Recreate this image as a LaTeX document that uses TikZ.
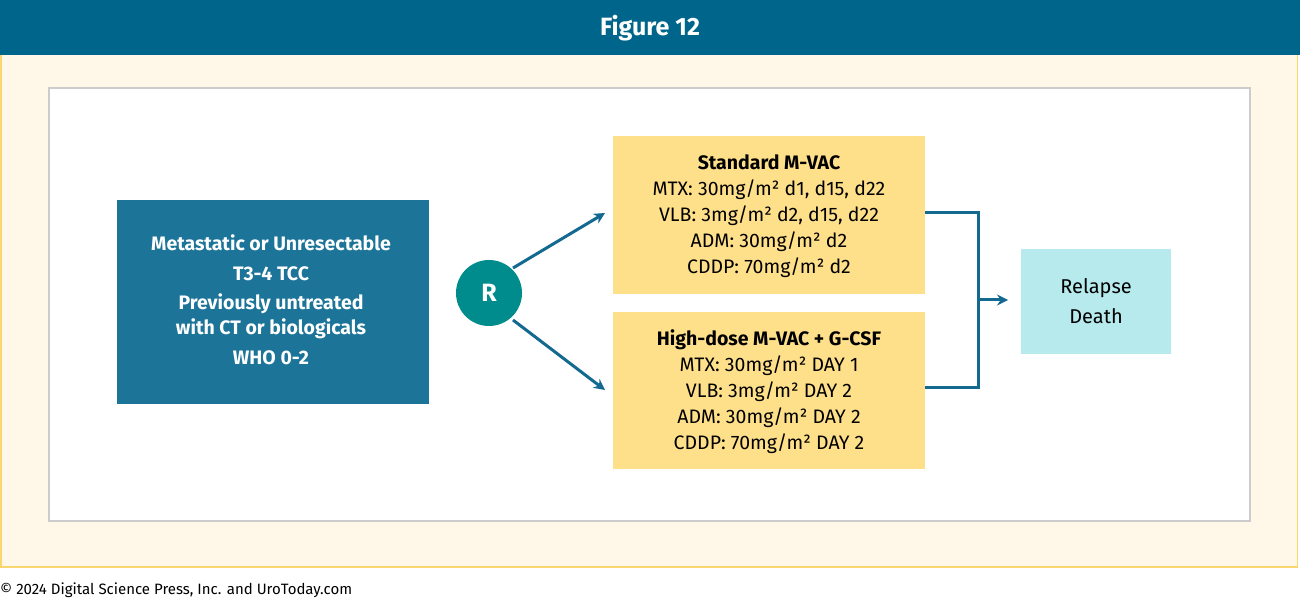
\documentclass[tikz,border=0pt]{standalone}
\usepackage{fontspec}
\setmainfont{Fira Sans}
\usetikzlibrary{arrows.meta}
\definecolor{hdr}{RGB}{0,101,138}
\definecolor{bgy}{RGB}{255,248,232}
\definecolor{bgb}{RGB}{250,214,110}
\definecolor{lbox}{RGB}{28,116,152}
\definecolor{rc}{RGB}{0,140,140}
\definecolor{ybox}{RGB}{255,224,138}
\definecolor{cbox}{RGB}{182,234,237}
\definecolor{arr}{RGB}{20,105,145}
\begin{document}
\begin{tikzpicture}[x=1pt,y=-1pt,
  txt/.style={font=\fontsize{19.5}{26}\selectfont,align=center,inner sep=0},
  con/.style={arr,line width=3pt},
  tip/.style={-{Stealth[length=11pt,width=11pt]}}]
\useasboundingbox (0,0) rectangle (1300,601);
\fill[bgy] (0,55) rectangle (1298,567);
\draw[bgb,line width=1.5pt] (0.75,55) -- (0.75,567) -- (1297.5,567) -- (1297.5,55);
\fill[hdr] (0,0) rectangle (1300,55);
\node[text=white,font=\fontsize{25}{28}\selectfont\bfseries] (title) at (650,28) {Figure 12};
\draw[fill=white,draw=black!20,line width=1.5pt] (49,88) rectangle (1250,521);
\node[fill=lbox,minimum width=312pt,minimum height=204pt,inner sep=0] (L) at (273,302) {};
\node[txt,text=white,font=\fontsize{19.5}{24.5}\selectfont\bfseries] (Lt) at (271,300) {Metastatic or Unresectable\\[5pt]T3-4 TCC\\[5pt]Previously untreated\\with CT or biologicals\\[6pt]WHO 0-2};
\node[circle,fill=rc,minimum size=66pt,inner sep=0,text=white,font=\fontsize{25}{28}\selectfont\bfseries] (R) at (489,293) {R};
\node[fill=ybox,minimum width=312pt,minimum height=158pt,inner sep=0] (A) at (769,215) {};
\node[txt] (At) at (769,216) {\textbf{Standard M-VAC}\\MTX: 30mg/m² d1, d15, d22\\VLB: 3mg/m² d2, d15, d22\\ADM: 30mg/m² d2\\CDDP: 70mg/m² d2};
\node[fill=ybox,minimum width=312pt,minimum height=157pt,inner sep=0] (B) at (769,390.5) {};
\node[txt] (Bt) at (769,392) {\textbf{High-dose M-VAC + G-CSF}\\MTX: 30mg/m² DAY 1\\VLB: 3mg/m² DAY 2\\ADM: 30mg/m² DAY 2\\CDDP: 70mg/m² DAY 2};
\node[fill=cbox,minimum width=150pt,minimum height=105pt,inner sep=0] (C) at (1096,301.5) {};
\node[txt,font=\fontsize{20}{26}\selectfont] (Ct) at (1096,301) {Relapse\\[4pt]Death};
\coordinate (a1) at (513,268); \coordinate (a2) at (605,213);
\coordinate (b1) at (513,320); \coordinate (b2) at (605,390);
\draw[con,tip] (a1) -- (a2);
\draw[con,tip] (b1) -- (b2);
\coordinate (j) at (978,300); \coordinate (je) at (1008,300);
\draw[con] (A.east|-0,213) -- (978,213) -- (978,387) -- (B.east|-0,387);
\draw[con,tip] (j) -- (je);
\node[anchor=west,font=\fontsize{15}{16}\selectfont,inner sep=0] (foot) at (0,590) {© 2024 Digital Science Press, Inc. and UroToday.com};
\end{tikzpicture}
\end{document}
